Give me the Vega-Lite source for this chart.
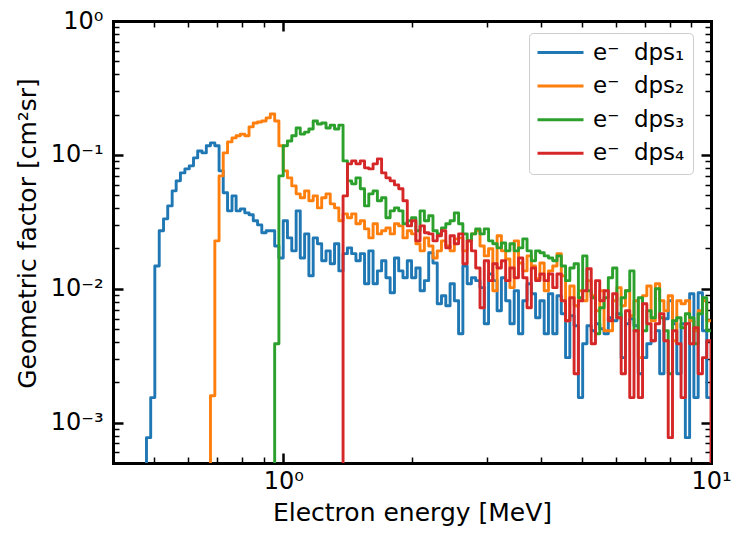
{
  "$schema": "https://vega.github.io/schema/vega-lite/v6.json",
  "width": 598,
  "height": 442,
  "autosize": "none",
  "padding": {"left": 113, "top": 21, "right": 37, "bottom": 74},
  "background": "white",
  "config": {
    "font": "DejaVu Sans",
    "view": {"stroke": null},
    "axis": {
      "grid": false,
      "domainWidth": 3,
      "domainColor": "black",
      "domainCap": "square",
      "tickColor": "black",
      "labelColor": "black",
      "titleColor": "black",
      "labelFont": "DejaVu Sans",
      "titleFont": "DejaVu Sans",
      "titleFontWeight": "normal",
      "labelOverlap": false,
      "labelFlush": false,
      "labelBound": false,
      "zindex": 1
    },
    "legend": {"strokeWidth": 1}
  },
  "data": {
    "values": [
      {"e": 0.468, "dps1": 0.0001},
      {"e": 0.479, "dps1": 0.000773},
      {"e": 0.490, "dps1": 0.00154},
      {"e": 0.501, "dps1": 0.0148},
      {"e": 0.513, "dps1": 0.0271},
      {"e": 0.525, "dps1": 0.0333},
      {"e": 0.537, "dps1": 0.0416},
      {"e": 0.550, "dps1": 0.0539},
      {"e": 0.562, "dps1": 0.064},
      {"e": 0.575, "dps1": 0.0734},
      {"e": 0.589, "dps1": 0.0786},
      {"e": 0.603, "dps1": 0.0828},
      {"e": 0.617, "dps1": 0.095},
      {"e": 0.631, "dps1": 0.107},
      {"e": 0.646, "dps1": 0.1035},
      {"e": 0.661, "dps1": 0.117, "dps2": 0.0001},
      {"e": 0.676, "dps1": 0.123, "dps2": 0.00159},
      {"e": 0.692, "dps1": 0.117, "dps2": 0.0228},
      {"e": 0.708, "dps1": 0.076, "dps2": 0.0697},
      {"e": 0.724, "dps1": 0.0521, "dps2": 0.1035},
      {"e": 0.741, "dps1": 0.0382, "dps2": 0.125},
      {"e": 0.759, "dps1": 0.0494, "dps2": 0.134},
      {"e": 0.776, "dps1": 0.0382, "dps2": 0.139},
      {"e": 0.794, "dps1": 0.0395, "dps2": 0.143},
      {"e": 0.813, "dps1": 0.0369, "dps2": 0.139},
      {"e": 0.832, "dps1": 0.0357, "dps2": 0.162},
      {"e": 0.851, "dps1": 0.0322, "dps2": 0.173},
      {"e": 0.871, "dps1": 0.03, "dps2": 0.176},
      {"e": 0.891, "dps1": 0.0262, "dps2": 0.179},
      {"e": 0.912, "dps1": 0.0271, "dps2": 0.189},
      {"e": 0.933, "dps1": 0.0271, "dps2": 0.202, "dps3": 0.0001},
      {"e": 0.955, "dps1": 0.0209, "dps2": 0.179, "dps3": 0.00389},
      {"e": 0.977, "dps1": 0.017, "dps2": 0.117, "dps3": 0.0697},
      {"e": 1.000, "dps1": 0.0322, "dps2": 0.076, "dps3": 0.117},
      {"e": 1.023, "dps1": 0.024, "dps2": 0.0674, "dps3": 0.127},
      {"e": 1.047, "dps1": 0.0192, "dps2": 0.0587, "dps3": 0.139},
      {"e": 1.072, "dps1": 0.0382, "dps2": 0.0512, "dps3": 0.159},
      {"e": 1.096, "dps1": 0.017, "dps2": 0.0478, "dps3": 0.143},
      {"e": 1.122, "dps1": 0.0257, "dps2": 0.0539, "dps3": 0.148},
      {"e": 1.148, "dps1": 0.0125, "dps2": 0.0454, "dps3": 0.156},
      {"e": 1.175, "dps1": 0.024, "dps2": 0.0494, "dps3": 0.179},
      {"e": 1.202, "dps1": 0.0217, "dps2": 0.0402, "dps3": 0.170},
      {"e": 1.230, "dps1": 0.0162, "dps2": 0.0478, "dps3": 0.173},
      {"e": 1.259, "dps1": 0.0192, "dps2": 0.0512, "dps3": 0.159},
      {"e": 1.288, "dps1": 0.0154, "dps2": 0.0431, "dps3": 0.167},
      {"e": 1.318, "dps1": 0.0217, "dps2": 0.0402, "dps3": 0.156},
      {"e": 1.349, "dps1": 0.0136, "dps2": 0.0322, "dps3": 0.167, "dps4": 0.0001},
      {"e": 1.380, "dps1": 0.0183, "dps2": 0.0363, "dps3": 0.0902, "dps4": 0.0494},
      {"e": 1.413, "dps1": 0.0202, "dps2": 0.0339, "dps3": 0.064, "dps4": 0.0857},
      {"e": 1.445, "dps1": 0.0183, "dps2": 0.0363, "dps3": 0.0608, "dps4": 0.0902},
      {"e": 1.479, "dps1": 0.0162, "dps2": 0.0306, "dps3": 0.0674, "dps4": 0.0857},
      {"e": 1.514, "dps1": 0.0183, "dps2": 0.0322, "dps3": 0.0558, "dps4": 0.0902},
      {"e": 1.549, "dps1": 0.0109, "dps2": 0.028, "dps3": 0.0416, "dps4": 0.08},
      {"e": 1.585, "dps1": 0.0192, "dps2": 0.024, "dps3": 0.0512, "dps4": 0.0786},
      {"e": 1.622, "dps1": 0.0109, "dps2": 0.0306, "dps3": 0.0539, "dps4": 0.0857},
      {"e": 1.660, "dps1": 0.0136, "dps2": 0.0257, "dps3": 0.0454, "dps4": 0.0934},
      {"e": 1.698, "dps1": 0.0162, "dps2": 0.0271, "dps3": 0.0478, "dps4": 0.0734},
      {"e": 1.738, "dps1": 0.0121, "dps2": 0.0285, "dps3": 0.0339, "dps4": 0.0674},
      {"e": 1.778, "dps1": 0.00934, "dps2": 0.0257, "dps3": 0.0382, "dps4": 0.064},
      {"e": 1.820, "dps1": 0.017, "dps2": 0.0306, "dps3": 0.0402, "dps4": 0.0597},
      {"e": 1.862, "dps1": 0.0136, "dps2": 0.0295, "dps3": 0.0382, "dps4": 0.0558},
      {"e": 1.905, "dps1": 0.0121, "dps2": 0.024, "dps3": 0.0306, "dps4": 0.0454},
      {"e": 1.950, "dps1": 0.0162, "dps2": 0.0271, "dps3": 0.0322, "dps4": 0.0295},
      {"e": 1.995, "dps1": 0.0121, "dps2": 0.0257, "dps3": 0.0339, "dps4": 0.0322},
      {"e": 2.042, "dps1": 0.0143, "dps2": 0.0217, "dps3": 0.0271, "dps4": 0.0228},
      {"e": 2.089, "dps1": 0.00966, "dps2": 0.0192, "dps3": 0.0382, "dps4": 0.0295},
      {"e": 2.138, "dps1": 0.0115, "dps2": 0.024, "dps3": 0.0322, "dps4": 0.0262},
      {"e": 2.188, "dps1": 0.0186, "dps2": 0.0209, "dps3": 0.0351, "dps4": 0.0257},
      {"e": 2.239, "dps1": 0.0156, "dps2": 0.017, "dps3": 0.0271, "dps4": 0.0228},
      {"e": 2.291, "dps1": 0.00773, "dps2": 0.0192, "dps3": 0.0257, "dps4": 0.0249},
      {"e": 2.344, "dps1": 0.00887, "dps2": 0.0228, "dps3": 0.0285, "dps4": 0.0271},
      {"e": 2.399, "dps1": 0.00747, "dps2": 0.0209, "dps3": 0.0306, "dps4": 0.0202},
      {"e": 2.455, "dps1": 0.0109, "dps2": 0.0192, "dps3": 0.0322, "dps4": 0.0249},
      {"e": 2.512, "dps1": 0.00814, "dps2": 0.0236, "dps3": 0.0369, "dps4": 0.0217},
      {"e": 2.570, "dps1": 0.00462, "dps2": 0.024, "dps3": 0.0306, "dps4": 0.0257},
      {"e": 2.630, "dps1": 0.0148, "dps2": 0.0192, "dps3": 0.0257, "dps4": 0.0154},
      {"e": 2.692, "dps1": 0.0109, "dps2": 0.0228, "dps3": 0.0228, "dps4": 0.0228},
      {"e": 2.754, "dps1": 0.0121, "dps2": 0.0257, "dps3": 0.0257, "dps4": 0.0192},
      {"e": 2.818, "dps1": 0.0115, "dps2": 0.0271, "dps3": 0.028, "dps4": 0.0143},
      {"e": 2.884, "dps1": 0.0102, "dps2": 0.0209, "dps3": 0.0257, "dps4": 0.00722},
      {"e": 2.951, "dps1": 0.00548, "dps2": 0.0176, "dps3": 0.028, "dps4": 0.0162},
      {"e": 3.020, "dps1": 0.0129, "dps2": 0.0199, "dps3": 0.0228, "dps4": 0.0115},
      {"e": 3.090, "dps1": 0.0115, "dps2": 0.00966, "dps3": 0.0217, "dps4": 0.0154},
      {"e": 3.162, "dps1": 0.00685, "dps2": 0.0249, "dps3": 0.0202, "dps4": 0.0143},
      {"e": 3.236, "dps1": 0.0121, "dps2": 0.0192, "dps3": 0.022, "dps4": 0.0162},
      {"e": 3.311, "dps1": 0.00814, "dps2": 0.0167, "dps3": 0.0192, "dps4": 0.0115},
      {"e": 3.388, "dps1": 0.00548, "dps2": 0.0102, "dps3": 0.0217, "dps4": 0.0143},
      {"e": 3.467, "dps1": 0.00966, "dps2": 0.0228, "dps3": 0.0192, "dps4": 0.0121},
      {"e": 3.548, "dps1": 0.00462, "dps2": 0.0156, "dps3": 0.0202, "dps4": 0.017},
      {"e": 3.631, "dps1": 0.00814, "dps2": 0.0136, "dps3": 0.0236, "dps4": 0.0121},
      {"e": 3.715, "dps1": 0.0109, "dps2": 0.0176, "dps3": 0.0192, "dps4": 0.00722},
      {"e": 3.802, "dps1": 0.00918, "dps2": 0.0148, "dps3": 0.0162, "dps4": 0.0143},
      {"e": 3.890, "dps1": 0.00608, "dps2": 0.0119, "dps3": 0.0192, "dps4": 0.0115},
      {"e": 3.981, "dps1": 0.00814, "dps2": 0.0156, "dps3": 0.0186, "dps4": 0.0129},
      {"e": 4.074, "dps1": 0.00462, "dps2": 0.00966, "dps3": 0.0176, "dps4": 0.0115},
      {"e": 4.169, "dps1": 0.00918, "dps2": 0.0136, "dps3": 0.017, "dps4": 0.0129},
      {"e": 4.266, "dps1": 0.00462, "dps2": 0.0148, "dps3": 0.0162, "dps4": 0.0102},
      {"e": 4.365, "dps1": 0.00887, "dps2": 0.0183, "dps3": 0.0176, "dps4": 0.0129},
      {"e": 4.467, "dps1": 0.00651, "dps2": 0.0125, "dps3": 0.0148, "dps4": 0.00814},
      {"e": 4.571, "dps1": 0.00306, "dps2": 0.00577, "dps3": 0.0115, "dps4": 0.00577},
      {"e": 4.677, "dps1": 0.00629, "dps2": 0.0105, "dps3": 0.0143, "dps4": 0.00857},
      {"e": 4.786, "dps1": 0.0053, "dps2": 0.00747, "dps3": 0.0154, "dps4": 0.00232},
      {"e": 4.898, "dps1": 0.00154, "dps2": 0.00966, "dps3": 0.00857, "dps4": 0.00814},
      {"e": 5.012, "dps1": 0.00389, "dps2": 0.00814, "dps3": 0.0176, "dps4": 0.00966},
      {"e": 5.129, "dps1": 0.0053, "dps2": 0.0115, "dps3": 0.00966, "dps4": 0.0141},
      {"e": 5.248, "dps1": 0.00486, "dps2": 0.00887, "dps3": 0.00857, "dps4": 0.00389},
      {"e": 5.370, "dps1": 0.00548, "dps2": 0.00685, "dps3": 0.00462, "dps4": 0.0115},
      {"e": 5.495, "dps1": 0.00503, "dps2": 0.00966, "dps3": 0.00722, "dps4": 0.00814},
      {"e": 5.623, "dps1": 0.00462, "dps2": 0.00486, "dps3": 0.00857, "dps4": 0.00966},
      {"e": 5.754, "dps1": 0.00608, "dps2": 0.00486, "dps3": 0.0121, "dps4": 0.00577},
      {"e": 5.888, "dps1": 0.00577, "dps2": 0.00814, "dps3": 0.0143, "dps4": 0.00918},
      {"e": 6.026, "dps1": 0.00651, "dps2": 0.0102, "dps3": 0.00608, "dps4": 0.00608},
      {"e": 6.166, "dps1": 0.00306, "dps2": 0.00747, "dps3": 0.00857, "dps4": 0.00232},
      {"e": 6.310, "dps1": 0.00548, "dps2": 0.00966, "dps3": 0.00966, "dps4": 0.00685},
      {"e": 6.457, "dps1": 0.00597, "dps2": 0.00629, "dps3": 0.0136, "dps4": 0.00154},
      {"e": 6.607, "dps1": 0.0053, "dps2": 0.00814, "dps3": 0.00486, "dps4": 0.00486},
      {"e": 6.761, "dps1": 0.00232, "dps2": 0.00306, "dps3": 0.00857, "dps4": 0.00154},
      {"e": 6.918, "dps1": 0.00306, "dps2": 0.00887, "dps3": 0.00486, "dps4": 0.00773},
      {"e": 7.079, "dps1": 0.00389, "dps2": 0.0105, "dps3": 0.00685, "dps4": 0.00548},
      {"e": 7.244, "dps1": 0.00409, "dps2": 0.00577, "dps3": 0.00608, "dps4": 0.00409},
      {"e": 7.413, "dps1": 0.00486, "dps2": 0.0109, "dps3": 0.01, "dps4": 0.00548},
      {"e": 7.586, "dps1": 0.00232, "dps2": 0.00814, "dps3": 0.00608, "dps4": 0.00651},
      {"e": 7.762, "dps1": 0.00597, "dps2": 0.00685, "dps3": 0.00486, "dps4": 0.00409},
      {"e": 7.943, "dps1": 0.00814, "dps2": 0.00887, "dps3": 0.00232, "dps4": 0.000773},
      {"e": 8.128, "dps1": 0.00548, "dps2": 0.00409, "dps3": 0.00577, "dps4": 0.00486},
      {"e": 8.318, "dps1": 0.00232, "dps2": 0.00814, "dps3": 0.00608, "dps4": 0.00389},
      {"e": 8.511, "dps1": 0.00548, "dps2": 0.00773, "dps3": 0.00512, "dps4": 0.00154},
      {"e": 8.710, "dps1": 0.000773, "dps2": 0.00814, "dps3": 0.00651, "dps4": 0.00548},
      {"e": 8.913, "dps1": 0.00918, "dps2": 0.00577, "dps3": 0.00608, "dps4": 0.00389},
      {"e": 9.120, "dps1": 0.00154, "dps2": 0.00486, "dps3": 0.00389, "dps4": 0.00512},
      {"e": 9.333, "dps1": 0.00934, "dps2": 0.00685, "dps3": 0.00651, "dps4": 0.00232},
      {"e": 9.550, "dps1": 0.00486, "dps2": 0.00814, "dps3": 0.00857, "dps4": 0.00306},
      {"e": 9.772, "dps1": 0.00154, "dps2": 0.00577, "dps3": 0.00486, "dps4": 0.00409},
      {"e": 10.0, "dps1": 0.00154, "dps2": 0.00577, "dps3": 0.00486, "dps4": 0.0001}
    ]
  },
  "transform": [
    {"fold": ["dps1", "dps2", "dps3", "dps4"], "as": ["series", "g"]},
    {"filter": "isValid(datum.g)"}
  ],
  "layer": [
    {
      "mark": {"type": "line", "interpolate": "step-after", "strokeWidth": 2.9, "strokeJoin": "round", "clip": true},
      "encoding": {
        "x": {
          "field": "e", "type": "quantitative",
          "scale": {"type": "log", "domain": [0.4, 10], "nice": false},
          "axis": {
            "orient": "bottom",
            "values": [0.4, 0.5, 0.6, 0.7, 0.8, 0.9, 1, 2, 3, 4, 5, 6, 7, 8, 9, 10],
            "labelExpr": "datum.value == 1 ? '10⁰' : datum.value == 10 ? '10¹' : ''",
            "tickSize": {"condition": {"test": "datum.value == 1 || datum.value == 10", "value": -10}, "value": -6},
            "tickWidth": {"condition": {"test": "datum.value == 1 || datum.value == 10", "value": 2.5}, "value": 1.5},
            "labelPadding": 16,
            "labelFontSize": 24,
            "title": "Electron energy [MeV]",
            "titleFontSize": 25,
            "titleBaseline": "alphabetic",
            "titleY": 57
          }
        },
        "y": {
          "field": "g", "type": "quantitative",
          "scale": {"type": "log", "domain": [0.0005, 1], "nice": false},
          "axis": {
            "orient": "left",
            "values": [0.0005, 0.0006, 0.0007, 0.0008, 0.0009, 0.001, 0.002, 0.003, 0.004, 0.005, 0.006, 0.007, 0.008, 0.009, 0.01, 0.02, 0.03, 0.04, 0.05, 0.06, 0.07, 0.08, 0.09, 0.1, 0.2, 0.3, 0.4, 0.5, 0.6, 0.7, 0.8, 0.9, 1],
            "labelExpr": "datum.value == 1 ? '10⁰' : datum.value == 0.1 ? '10⁻¹' : datum.value == 0.01 ? '10⁻²' : datum.value == 0.001 ? '10⁻³' : ''",
            "tickSize": {"condition": {"test": "datum.value == 1 || datum.value == 0.1 || datum.value == 0.01 || datum.value == 0.001", "value": -10}, "value": -6},
            "tickWidth": {"condition": {"test": "datum.value == 1 || datum.value == 0.1 || datum.value == 0.01 || datum.value == 0.001", "value": 2.5}, "value": 1.5},
            "labelPadding": 20,
            "labelFontSize": 24,
            "title": "Geometric factor [cm²sr]",
            "titleFontSize": 25,
            "titleAngle": 270,
            "titleBaseline": "alphabetic",
            "titleX": -77.5,
            "titleY": 212
          }
        },
        "color": {
          "field": "series", "type": "nominal",
          "scale": {"domain": ["dps1", "dps2", "dps3", "dps4"], "range": ["#1f77b4", "#ff7f0e", "#2ca02c", "#d62728"]},
          "legend": {
            "title": null,
            "orient": "none",
            "legendX": 416,
            "legendY": 12,
            "padding": 8,
            "rowPadding": 9.6,
            "cornerRadius": 4,
            "fillColor": "rgba(255,255,255,0.8)",
            "strokeColor": "#cccccc",
            "symbolType": "M-4.6,0H4.6",
            "symbolSize": 100,
            "symbolStrokeWidth": 3,
            "symbolOffset": 12,
            "labelFontSize": 23,
            "labelFont": "DejaVu Sans",
            "labelColor": "black",
            "labelOffset": 21,
            "labelExpr": "datum.label == 'dps1' ? 'e⁻ \u00a0dps₁' : datum.label == 'dps2' ? 'e⁻ \u00a0dps₂' : datum.label == 'dps3' ? 'e⁻ \u00a0dps₃' : 'e⁻ \u00a0dps₄'"
          }
        }
      }
    },
    {
      "mark": {"type": "line", "interpolate": "step-after", "opacity": 0, "clip": true},
      "encoding": {
        "x": {
          "field": "e", "type": "quantitative",
          "axis": {
            "orient": "top",
            "values": [0.4, 0.5, 0.6, 0.7, 0.8, 0.9, 1, 2, 3, 4, 5, 6, 7, 8, 9, 10],
            "labels": false,
            "title": null,
            "tickSize": {"condition": {"test": "datum.value == 1 || datum.value == 10", "value": -10}, "value": -6},
            "tickWidth": {"condition": {"test": "datum.value == 1 || datum.value == 10", "value": 2.5}, "value": 1.5}
          }
        },
        "y": {
          "field": "g", "type": "quantitative",
          "axis": {
            "orient": "right",
            "values": [0.0005, 0.0006, 0.0007, 0.0008, 0.0009, 0.001, 0.002, 0.003, 0.004, 0.005, 0.006, 0.007, 0.008, 0.009, 0.01, 0.02, 0.03, 0.04, 0.05, 0.06, 0.07, 0.08, 0.09, 0.1, 0.2, 0.3, 0.4, 0.5, 0.6, 0.7, 0.8, 0.9, 1],
            "labels": false,
            "title": null,
            "tickSize": {"condition": {"test": "datum.value == 1 || datum.value == 0.1 || datum.value == 0.01 || datum.value == 0.001", "value": -10}, "value": -6},
            "tickWidth": {"condition": {"test": "datum.value == 1 || datum.value == 0.1 || datum.value == 0.01 || datum.value == 0.001", "value": 2.5}, "value": 1.5}
          }
        },
        "detail": {"field": "series", "type": "nominal"}
      }
    }
  ],
  "resolve": {"axis": {"x": "independent", "y": "independent"}}
}
